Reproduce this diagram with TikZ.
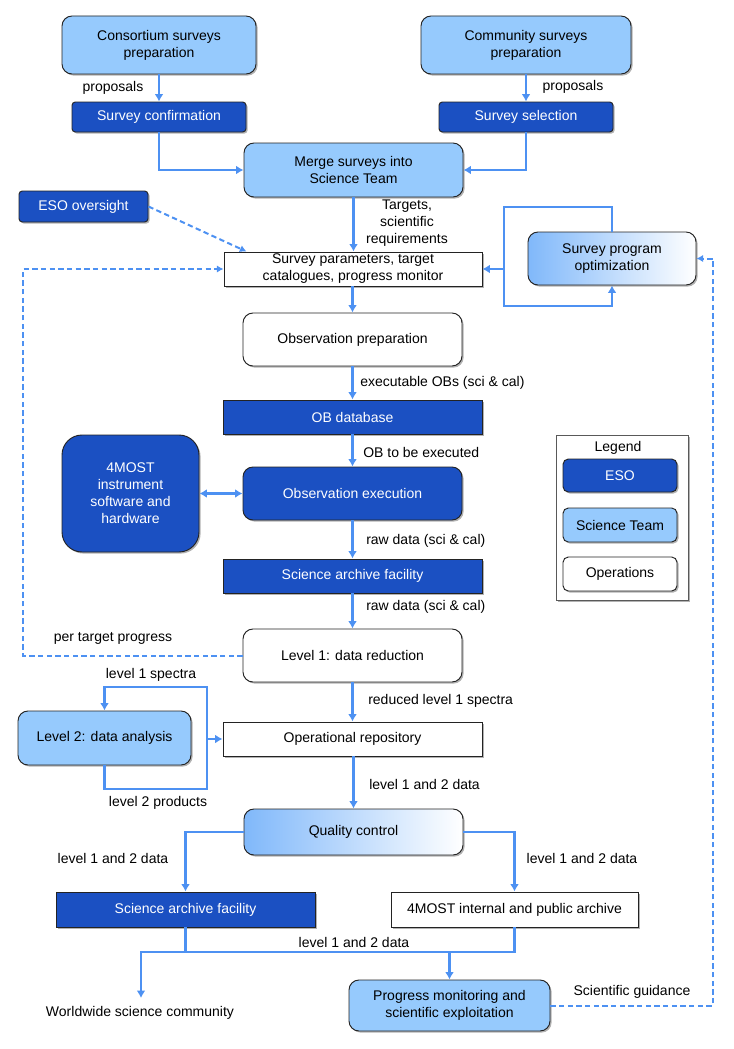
\documentclass[tikz,border=0pt]{standalone}
\usepackage{fontspec}
\setmainfont{Liberation Sans}
\usetikzlibrary{arrows.meta,shadows,calc}
\definecolor{esoblue}{RGB}{27,80,194}
\definecolor{teamblue}{RGB}{150,202,253}
\definecolor{gradblue}{RGB}{128,184,250}
\definecolor{lineblue}{RGB}{77,145,242}
\definecolor{bord}{RGB}{35,35,35}
\newcommand\fs{\fontsize{10.5}{12.75}\selectfont}
\newcommand\mkbox[7]{\node[#2, minimum width={(#5-#3)*0.75pt}, minimum height={(#6-#4)*0.75pt}] (#1) at ({(#3+#5)/2},{(#4+#6)/2}) {#7};}
\tikzset{
  base/.style={draw=bord, line width=0.7pt, inner sep=0pt, align=center, font=\fs,
    drop shadow={shadow xshift=1.2pt, shadow yshift=-1.2pt, opacity=0.3, fill=black}},
  esobox/.style={base, fill=esoblue, text=white},
  teambox/.style={base, fill=teamblue},
  opbox/.style={base, fill=white},
  gradbox/.style={base, left color=gradblue, right color=white},
  rc/.style={rounded corners=7.5pt},
  rs/.style={rounded corners=2.5pt},
  conn/.style={draw=lineblue, line width=2.2pt, -{Latex[length=5.5pt,width=6.5pt]}},
  plain/.style={draw=lineblue, line width=2.2pt},
  dconn/.style={draw=lineblue, line width=1.5pt, dash pattern=on 4pt off 2.5pt, -{Latex[length=5pt,width=5.5pt]}},
  lbl/.style={font=\fs, inner sep=0pt, align=center},
  lblw/.style={font=\fs, inner sep=0pt, anchor=west},
}
\begin{document}
\begin{tikzpicture}[x=0.75pt, y=-0.75pt, font=\fs]
\useasboundingbox (0,0) rectangle (734,1049);
% boxes
\mkbox{cons}{teambox,rc}{62}{16}{256}{74}{Consortium surveys\\preparation}
\mkbox{comm}{teambox,rc}{421}{16}{631}{74}{Community surveys\\preparation}
\mkbox{conf}{esobox,rs}{72}{102}{246}{132}{Survey confirmation}
\mkbox{sel}{esobox,rs}{439}{102}{613}{132}{Survey selection}
\mkbox{merge}{teambox,rc}{244}{143}{463}{197}{Merge surveys into\\Science Team}
\mkbox{eso}{esobox,rs}{19}{191}{148}{222}{ESO oversight}
\mkbox{params}{opbox}{224}{252}{482}{286}{Survey parameters, target\\catalogues, progress monitor}
\mkbox{spo}{gradbox,rc}{528}{232}{696}{285}{Survey program\\optimization}
\mkbox{obsprep}{opbox,rc}{243}{313}{462}{366}{Observation preparation}
\mkbox{obdb}{esobox}{223}{400}{482}{434}{OB database}
\mkbox{instr}{esobox,rounded corners=15pt}{62}{435}{199}{552}{4MOST\\instrument\\software and\\hardware}
\mkbox{obsexec}{esobox,rc}{243}{467}{462}{520}{Observation execution}
\mkbox{saf1}{esobox}{223}{559}{482}{593}{Science archive facility}
\mkbox{lev1}{opbox,rc}{243}{629}{462}{682}{Level 1: data reduction}
\mkbox{oprep}{opbox}{223}{722}{482}{756}{Operational repository}
\mkbox{lev2}{teambox,rc}{18}{711}{191}{765}{Level 2: data analysis}
\mkbox{qc}{gradbox,rc}{244}{809}{463}{855}{Quality control}
\mkbox{saf2}{esobox}{56}{892}{315}{927}{Science archive facility}
\mkbox{arch}{opbox}{391}{892}{638}{927}{4MOST internal and public archive}
\mkbox{prog}{teambox,rc}{349}{980}{550}{1031}{Progress monitoring and\\scientific exploitation}
% legend
\mkbox{legend}{opbox, draw=black!65, line width=0.6pt}{556}{435}{688}{600}{}
\node[lbl] (legt) at (618,448) {Legend};
\mkbox{lg1}{esobox,rounded corners=4pt}{563}{459}{677}{492}{ESO}
\mkbox{lg2}{teambox,rounded corners=4pt}{563}{508}{677}{542}{Science Team}
\mkbox{lg3}{opbox,rounded corners=4pt}{563}{557}{677}{591}{Operations}
% coordinates
\coordinate (lt) at (504,207);
\coordinate (lb) at (504,306);
\coordinate (lx) at (23,0);
\coordinate (rx) at (713,0);
\coordinate (l2t) at (207,687);
\coordinate (l2b) at (207,789);
\coordinate (bl) at (141,952);
\coordinate (wend) at (141,998);
% connectors
\draw[conn] (cons.south) -- (conf.north);
\draw[conn] (comm.south) -- (sel.north);
\draw[conn] (conf.south) |- (merge.west);
\draw[conn] (sel.south) |- (merge.east);
\draw[conn] (merge.south) -- (merge.south |- params.north);
\draw[dconn] (eso.east) -- ($(params.north west)+(23,0)$);
\draw[conn] (spo.north) |- (lt) -- (lb) -| (spo.south);
\draw[conn] (lt |- params.east) -- (params.east);
\draw[dconn] (prog.east) -| (rx |- spo.east) -- (spo.east);
\draw[dconn] (lev1.west) -| (lx |- params.west) -- (params.west);
\draw[conn] (params.south -| obsprep.north) -- (obsprep.north);
\draw[conn] (obsprep.south) -- (obsprep.south |- obdb.north);
\draw[conn] (obdb.south -| obsexec.north) -- (obsexec.north);
\draw[draw=lineblue, line width=2.2pt, {Latex[length=5.5pt,width=6.5pt]}-{Latex[length=5.5pt,width=6.5pt]}] (instr.east) -- (obsexec.west);
\draw[conn] (obsexec.south) -- (obsexec.south |- saf1.north);
\draw[conn] (saf1.south -| lev1.north) -- (lev1.north);
\draw[conn] (lev1.south) -- (lev1.south |- oprep.north);
\draw[conn] (lev2.south) |- (l2b) -- (l2t) -| (lev2.north);
\draw[conn] (l2t |- oprep.west) -- (oprep.west);
\draw[conn] (oprep.south -| qc.north) -- (qc.north);
\draw[conn] (qc.west) -| (saf2.north);
\draw[conn] (qc.east) -| (arch.north);
\draw[plain] (saf2.south) -- (saf2.south |- bl);
\draw[conn] (arch.south) |- (bl) -- (wend);
\draw[conn] (prog.north |- bl) -- (prog.north);
% labels
\node[lbl] (lp1) at (113,88) {proposals};
\node[lbl] (lp2) at (573,87) {proposals};
\node[lbl] (ltg) at (407,223) {Targets,\\scientific\\requirements};
\node[lblw] (lex) at (360,383) {executable OBs (sci \& cal)};
\node[lblw] (lob) at (363,452) {OB to be executed};
\node[lblw] (lraw1) at (366,541) {raw data (sci \& cal)};
\node[lblw] (lraw2) at (366,607) {raw data (sci \& cal)};
\node[lbl] (lptp) at (113,638) {per target progress};
\node[lbl] (ll1s) at (151,675) {level 1 spectra};
\node[lblw] (lred) at (368,701) {reduced level 1 spectra};
\node[lblw] (ld1) at (369,784) {level 1 and 2 data};
\node[lbl] (ll2p) at (158,803) {level 2 products};
\node[lbl] (ld2) at (113,858) {level 1 and 2 data};
\node[lbl] (ld3) at (582,858) {level 1 and 2 data};
\node[lbl] (ld4) at (354,942) {level 1 and 2 data};
\node[lbl] (lsg) at (632,992) {Scientific guidance};
\node[lbl] (lww) at (140,1013) {Worldwide science community};
\end{tikzpicture}
\end{document}
